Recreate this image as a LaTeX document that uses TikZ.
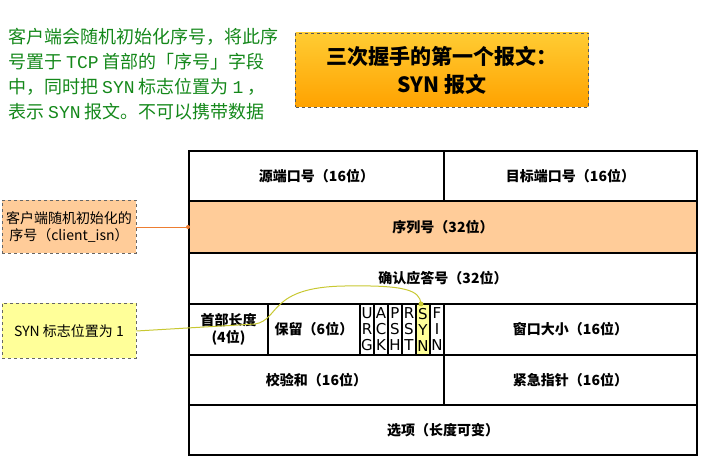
\documentclass[tikz,border=0pt]{standalone}
\usepackage{fontspec}
\setmainfont{Noto Sans CJK SC}
\newfontfamily\cjk{Noto Sans CJK SC}
\newfontfamily\flagfont{DejaVu Sans}
\newfontfamily\latmono{Liberation Mono}
\definecolor{peach}{HTML}{FFCC99}
\definecolor{lemon}{HTML}{FFFF99}
\definecolor{txtgreen}{HTML}{14881A}
\definecolor{linkorange}{HTML}{ED7D31}
\definecolor{linkyellow}{HTML}{C8C832}
\definecolor{titletop}{HTML}{FFCC33}
\definecolor{titlebot}{HTML}{FFA200}
\tikzset{
  cell/.style={draw=black, line width=1.2pt, inner sep=0pt, align=center,
    font=\cjk\bfseries\fontsize{14}{17}\selectfont},
  flagcell/.style={draw=black, line width=1.2pt, inner sep=0pt, align=center,
    minimum width=14pt, minimum height=51pt,
    font=\flagfont\fontsize{15}{16}\selectfont},
  notebox/.style={draw=gray!80!black, dashed, line width=0.9pt, inner sep=0pt,
    align=center, minimum width=134pt, font=\cjk\fontsize{14}{17}\selectfont},
  dotend/.style={circle, fill, inner sep=0pt, minimum size=#1},
}
\begin{document}
\begin{tikzpicture}[x=1pt,y=-1pt]
\useasboundingbox (0,0) rectangle (705,465);
% green description
\node[anchor=north west, align=left, inner sep=0pt, text=txtgreen,
  font=\cjk\fontsize{18}{25}\selectfont] (desc) at (8,28)
  {客户端会随机初始化序号，将此序\\号置于 {\latmono TCP} 首部的「序号」字段\\中，同时把 {\latmono SYN} 标志位置为 {\latmono 1} ，\\表示 {\latmono SYN} 报文。不可以携带数据};
% title box
\node[draw=gray!70!black, dashed, line width=0.9pt, top color=titletop, bottom color=titlebot,
  minimum width=293pt, minimum height=74pt, align=center, inner sep=0pt,
  font=\cjk\bfseries\fontsize{21}{28}\selectfont] (title) at (442,70)
  {三次握手的第一个报文：\\SYN 报文};
% table rows
\node[cell, minimum width=255pt, minimum height=50pt] (src) at (316.5,176) {源端口号（16位）};
\node[cell, minimum width=253pt, minimum height=50pt] (dst) at (570.5,176) {目标端口号（16位）};
\node[cell, fill=peach, minimum width=508pt, minimum height=52pt] (seq) at (443,227) {序列号（32位）};
\node[cell, minimum width=508pt, minimum height=51pt] (ack) at (443,278.5) {确认应答号（32位）};
\node[cell, minimum width=79pt, minimum height=51pt] (hlen) at (228.5,329.5) {首部长度\\(4位)};
\node[cell, minimum width=92pt, minimum height=51pt] (resv) at (314,329.5) {保留（6位）};
\node[flagcell] (urg) at (367,329.5) {U\\R\\G};
\node[flagcell] (ackf) at (381,329.5) {A\\C\\K};
\node[flagcell] (psh) at (395,329.5) {P\\S\\H};
\node[flagcell] (rst) at (409,329.5) {R\\S\\T};
\node[flagcell, fill=lemon] (syn) at (423,329.5) {S\\Y\\N};
\node[flagcell] (fin) at (437,329.5) {F\\I\\N};
\node[cell, minimum width=253pt, minimum height=51pt] (win) at (570.5,329.5) {窗口大小（16位）};
\node[cell, minimum width=255pt, minimum height=50pt] (chk) at (316.5,380) {校验和（16位）};
\node[cell, minimum width=253pt, minimum height=50pt] (urgp) at (570.5,380) {紧急指针（16位）};
\node[cell, minimum width=508pt, minimum height=50pt] (opt) at (443,430) {选项（长度可变）};
% side notes
\node[notebox, fill=peach, minimum height=53pt] (isn) at (69,227)
  {客户端随机初始化的\\序号（client\_isn）};
\node[notebox, fill=lemon, minimum height=55pt] (syntag) at (69,331)
  {SYN 标志位置为 1};
% connectors
\coordinate (isnend) at (188,227);
\draw[linkorange, line width=0.9pt] (isn.east) -- (isnend);
\node[dotend=4pt, fill=linkorange] (isndot) at (isnend) {};
\coordinate (synend) at (421,304);
\draw[linkyellow, line width=1pt] (syntag.east) -- (255,324)
  .. controls (280,320) and (268,287) .. (345,286)
  .. controls (405,285) and (420,290) .. (synend);
\node[dotend=5pt, fill=linkyellow] (syndot) at (synend) {};
\end{tikzpicture}
\end{document}
